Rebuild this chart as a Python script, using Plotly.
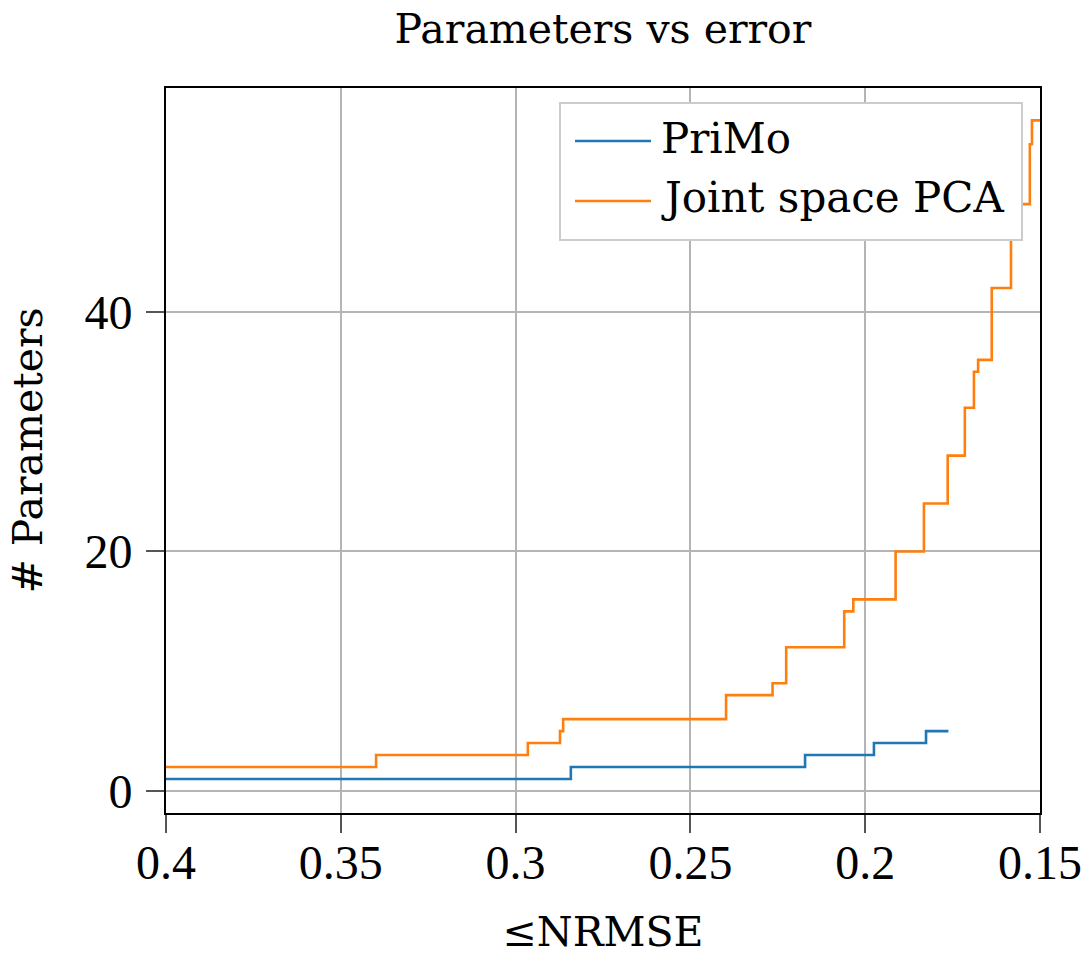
import plotly.graph_objects as go

# Data (x = NRMSE threshold, y = number of parameters)
primo_x = [0.4, 0.2842, 0.2172, 0.1975, 0.1826, 0.1762]
primo_y = [1, 2, 3, 4, 5, 5]

pca_x = [0.4, 0.3399, 0.2965, 0.2873, 0.2864, 0.2398, 0.2265, 0.2226, 0.2060,
         0.2034, 0.1913, 0.1832, 0.1764, 0.1715, 0.1689, 0.1677, 0.1638,
         0.1583, 0.1529, 0.1523, 0.1500]
pca_y = [2, 3, 4, 5, 6, 8, 9, 12, 15, 16, 20, 24, 28, 32, 35, 36, 42, 49, 54, 56, 56]

series_names = ["PriMo", "Joint space PCA"]
series_colors = ["#1f77b4", "#ff7f0e"]

x_ticks = [0.4, 0.35, 0.3, 0.25, 0.2, 0.15]
x_tick_text = ["0.4", "0.35", "0.3", "0.25", "0.2", "0.15"]
y_ticks = [0, 20, 40]
y_tick_text = ["0", "20", "40"]

LABEL_FONT = "DejaVu Serif"
TICK_FONT = "Liberation Serif"

W, H = 1090, 956
ML, MR, MT, MB = 166, 50, 88, 143
PW, PH = W - ML - MR, H - MT - MB


def px_x(px):
    return (px - ML) / PW


def px_y(py):
    return (H - MB - py) / PH


fig = go.Figure()
fig.add_trace(go.Scatter(x=primo_x, y=primo_y, mode="lines", name=series_names[0],
                         line=dict(color=series_colors[0], width=2.6, shape="hv"),
                         showlegend=False))
fig.add_trace(go.Scatter(x=pca_x, y=pca_y, mode="lines", name=series_names[1],
                         line=dict(color=series_colors[1], width=2.6, shape="hv"),
                         showlegend=False))

axis_common = dict(
    showline=True, linecolor="black", linewidth=2, mirror=True,
    showgrid=True, gridcolor="#b4b4b4", gridwidth=2,
    ticks="outside", ticklen=18, tickwidth=1.5, tickcolor="#555555",
    tickfont=dict(family=TICK_FONT, size=48, color="black"),
    zeroline=False, automargin=False,
)

fig.update_xaxes(range=[0.4, 0.15], tickvals=x_ticks, ticktext=x_tick_text,
                 ticklabelstandoff=-12,
                 title=dict(text="≤NRMSE", font=dict(family=LABEL_FONT, size=41, color="black"),
                            standoff=44),
                 **axis_common)
fig.update_yaxes(range=[-1.84, 58.7], tickvals=y_ticks, ticktext=y_tick_text,
                 ticklabelstandoff=4,
                 title=dict(text="# Parameters", font=dict(family=LABEL_FONT, size=41, color="black"),
                            standoff=29),
                 **axis_common)

# Legend box drawn manually (long line samples as in the reference)
shapes = [dict(type="rect", xref="paper", yref="paper",
               x0=px_x(560), x1=px_x(1022), y0=px_y(240), y1=px_y(103),
               fillcolor="white", line=dict(color="#cccccc", width=2), layer="above")]
annotations = []
for i, (name, col) in enumerate(zip(series_names, series_colors)):
    ly = 141 + 60 * i
    shapes.append(dict(type="line", xref="paper", yref="paper",
                       x0=px_x(575), x1=px_x(651), y0=px_y(ly), y1=px_y(ly),
                       line=dict(color=col, width=2.6), layer="above"))
    annotations.append(dict(text=name, xref="paper", yref="paper",
                            x=px_x(659), y=px_y(ly - 3), xanchor="left", yanchor="middle",
                            showarrow=False,
                            font=dict(family=LABEL_FONT, size=42, color="black")))

fig.update_layout(
    width=W, height=H,
    margin=dict(l=ML, r=MR, t=MT, b=MB),
    paper_bgcolor="white", plot_bgcolor="white",
    title=dict(text="Parameters vs error", x=(ML + PW / 2) / W, xanchor="center",
               y=0.985, yanchor="top", yref="container",
               font=dict(family=LABEL_FONT, size=41, color="black")),
    shapes=shapes,
    annotations=annotations,
    showlegend=False,
)

fig.write_html("out.html")
